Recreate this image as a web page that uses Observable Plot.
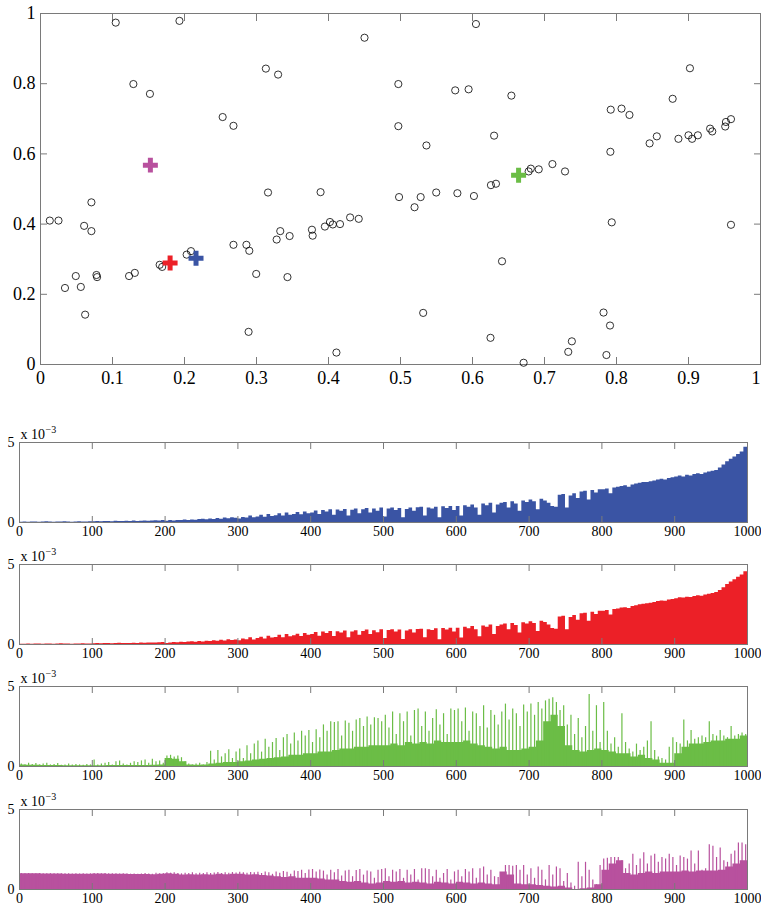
<!DOCTYPE html>
<html><head><meta charset="utf-8">
<script src="https://cdn.jsdelivr.net/npm/d3@7"></script>
<script src="https://cdn.jsdelivr.net/npm/@observablehq/plot@0.6"></script>
<style>
html,body{margin:0;padding:0;background:#fff;}
#wrap{position:relative;width:761px;height:908px;overflow:hidden;}
#wrap > div{position:absolute;left:0;}
</style></head>
<body><div id="wrap"></div>
<script>
// ---------- scatter data ----------
const pointX = [0.1045,0.193,0.450,0.313,0.330,0.129,0.152,0.253,0.268,0.316,0.389,0.0707,0.0129,0.025,0.0606,0.0707,0.402,0.406,0.416,0.395,0.430,0.442,0.377,0.378,0.333,0.328,0.346,0.268,0.286,0.290,0.209,0.203,0.1655,0.169,0.131,0.123,0.0777,0.0786,0.049,0.034,0.056,0.2996,0.343,0.062,0.289,0.411,
 0.6048,0.497,0.576,0.5946,0.654,0.902,0.878,0.792,0.807,0.818,0.497,0.630,0.536,0.856,0.846,0.886,0.900,0.905,0.913,0.930,0.933,0.951,0.952,0.959,0.7915,0.711,0.7285,0.692,0.681,0.678,0.6326,0.6256,0.5496,0.579,0.602,0.498,0.528,0.5195,0.7934,0.959,0.641,0.5315,0.782,0.791,0.625,0.738,0.733,0.786,0.671];
const pointY = [0.974,0.979,0.931,0.843,0.826,0.799,0.771,0.705,0.680,0.490,0.491,0.462,0.410,0.410,0.395,0.380,0.406,0.399,0.400,0.393,0.419,0.415,0.384,0.367,0.380,0.356,0.366,0.341,0.341,0.324,0.323,0.313,0.284,0.278,0.261,0.252,0.255,0.249,0.252,0.218,0.221,0.258,0.249,0.142,0.093,0.034,
 0.970,0.799,0.781,0.784,0.766,0.844,0.757,0.726,0.729,0.711,0.679,0.652,0.624,0.650,0.630,0.643,0.653,0.643,0.653,0.672,0.664,0.678,0.691,0.699,0.606,0.571,0.550,0.556,0.558,0.550,0.515,0.511,0.490,0.488,0.480,0.477,0.477,0.448,0.405,0.398,0.294,0.147,0.148,0.111,0.076,0.066,0.036,0.027,0.005];
const centerNames = ["magenta","red","blue","green"];
const centerX = [0.1526,0.180,0.216,0.664];
const centerY = [0.568,0.289,0.303,0.539];
const colors = {blue:"#3a54a4", red:"#ec2027", green:"#6bbd46", magenta:"#b8519e"};
const scatterXTicks = [0,0.1,0.2,0.3,0.4,0.5,0.6,0.7,0.8,0.9,1];
const scatterYTicks = [0,0.2,0.4,0.6,0.8,1];

// ---------- bar panel data (units of 1e-3), bin of 5 samples ----------
const binStep = 5;
const panelXTicks = [0,100,200,300,400,500,600,700,800,900,1000];
const panelYTicks = [0,5];
const blueVals = [
0.02,0.03,0.02,0.03,0.03,0.02,0.03,0.04,0.03,0.02,0.03,0.03,0.04,0.03,0.02,0.03,0.04,0.03,0.03,0.04,
0.05,0.06,0.05,0.07,0.06,0.05,0.08,0.06,0.07,0.08,0.06,0.09,0.07,0.08,0.1,0.08,0.09,0.11,0.09,0.12,
0.08,0.12,0.1,0.13,0.12,0.15,0.13,0.16,0.14,0.18,0.2,0.17,0.22,0.19,0.25,0.21,0.28,0.23,0.3,0.26,
0.22,0.32,0.28,0.4,0.3,0.35,0.45,0.33,0.5,0.38,0.42,0.55,0.4,0.6,0.45,0.5,0.62,0.48,0.65,0.55,
0.6,0.72,0.5,0.75,0.65,0.8,0.45,0.78,0.7,0.82,0.4,0.76,0.85,0.55,0.8,0.88,0.6,0.85,0.7,0.9,
0.35,0.85,0.9,0.75,0.88,0.3,0.82,0.9,0.7,0.92,0.95,0.4,0.9,0.85,0.95,0.3,0.98,0.88,1.0,0.75,
1.0,0.4,1.05,0.95,1.1,0.9,0.45,1.15,1.05,1.2,0.6,1.1,1.2,1.25,0.9,1.3,1.15,0.7,1.35,1.25,
1.4,1.3,0.8,1.45,1.35,1.2,1.0,0.95,1.7,1.75,0.9,1.65,1.8,1.5,1.9,1.95,1.4,2.0,1.85,2.05,
2.05,2.1,1.8,2.15,2.2,2.25,2.3,2.2,2.35,2.4,2.45,2.5,2.5,2.55,2.6,2.65,2.7,2.65,2.75,2.8,
2.85,2.9,2.85,2.95,2.9,3.0,3.05,3.0,3.1,3.15,3.2,3.25,3.4,3.6,3.8,3.95,4.1,4.25,4.4,4.7];
const redVals = [
0.02,0.02,0.03,0.02,0.03,0.03,0.02,0.03,0.03,0.02,0.03,0.04,0.03,0.03,0.02,0.03,0.03,0.04,0.03,0.03,
0.05,0.06,0.05,0.06,0.07,0.05,0.06,0.08,0.06,0.07,0.06,0.08,0.07,0.09,0.08,0.1,0.09,0.1,0.11,0.12,
0.06,0.1,0.12,0.11,0.14,0.12,0.15,0.17,0.14,0.19,0.16,0.21,0.18,0.24,0.2,0.27,0.22,0.3,0.25,0.28,
0.24,0.35,0.3,0.42,0.28,0.38,0.46,0.35,0.52,0.4,0.44,0.58,0.42,0.62,0.48,0.55,0.64,0.5,0.68,0.58,
0.62,0.75,0.52,0.78,0.68,0.82,0.5,0.8,0.72,0.85,0.42,0.78,0.86,0.58,0.82,0.9,0.62,0.86,0.74,0.92,
0.38,0.88,0.92,0.78,0.9,0.32,0.84,0.92,0.72,0.94,0.96,0.42,0.92,0.88,0.98,0.3,1.0,0.9,1.02,0.78,
1.02,0.4,1.08,0.98,1.12,0.92,0.48,1.16,1.08,1.22,0.62,1.12,1.22,1.28,0.92,1.32,1.18,0.72,1.36,1.28,
1.42,1.32,0.82,1.46,1.38,1.22,1.0,0.95,1.72,1.76,0.92,1.68,1.82,1.52,1.92,1.96,1.45,2.02,1.88,2.08,
2.08,2.12,1.85,2.18,2.22,2.28,2.3,2.25,2.38,2.42,2.48,2.52,2.55,2.58,2.62,2.68,2.72,2.7,2.78,2.82,
2.86,2.92,2.9,2.96,2.93,3.0,3.05,3.02,3.1,3.14,3.18,3.25,3.38,3.55,3.75,3.9,4.05,4.2,4.35,4.55];
// green & magenta: base level per 10 samples, spike tops per 5 samples
const baseStep = 10;
const greenBase = [
0.1,0.08,0.08,0.07,0.06,0.06,0.05,0.05,0.05,0.05,
0.05,0.05,0.06,0.06,0.06,0.06,0.07,0.07,0.08,0.1,
0.5,0.45,0.3,0.1,0.08,0.1,0.15,0.2,0.25,0.25,
0.3,0.35,0.4,0.45,0.5,0.55,0.6,0.7,0.7,0.8,
0.8,0.9,0.9,1.0,1.1,1.1,1.2,1.2,1.3,1.3,
1.3,1.4,1.3,1.5,1.4,1.5,1.4,1.6,1.5,1.5,
1.5,1.6,1.4,1.3,1.2,1.1,1.2,1.0,1.0,1.1,
1.2,1.6,2.8,3.2,2.5,1.3,1.0,0.9,1.0,1.1,
1.0,0.9,0.8,0.8,0.6,0.7,0.5,0.4,0.2,0.2,
0.8,1.2,1.4,1.4,1.5,1.6,1.6,1.7,1.7,1.9];
const greenSpikes = [
0.15,0.1,0.2,0.12,0.18,0.1,0.15,0.2,0.1,0.12,0.18,0.08,0.1,0.15,0.1,0.12,0.1,0.08,0.12,0.1,
0.4,0.1,0.15,0.2,0.25,0.1,0.3,0.35,0.15,0.1,0.2,0.3,0.25,0.35,0.4,0.2,0.45,0.3,0.35,0.2,
0.65,0.7,0.6,0.65,0.55,0.3,0.15,0.1,0.15,0.2,0.1,0.25,0.95,0.4,1.0,0.6,0.8,1.05,0.5,0.9,
1.1,0.5,1.3,0.8,1.4,1.6,0.9,1.7,1.2,1.5,1.75,1.0,1.8,2.0,1.4,2.1,1.6,2.2,1.9,2.25,
1.5,2.3,1.8,2.6,2.2,2.8,2.75,2.8,1.9,2.85,2.7,2.2,2.9,3.0,2.5,3.1,2.6,3.05,3.0,2.8,
3.2,2.4,3.4,2.0,3.3,2.8,3.4,1.9,3.5,3.6,2.5,3.4,2.2,3.0,3.55,2.6,3.3,2.0,3.6,3.5,
3.6,2.8,3.65,2.2,3.4,3.3,2.5,3.8,2.4,3.5,3.2,2.6,3.4,3.9,2.9,3.6,3.3,2.5,3.85,3.4,
3.9,3.2,4.0,3.6,4.1,4.2,4.3,4.0,3.5,3.8,2.6,3.2,2.0,3.0,1.8,2.5,4.5,2.2,3.8,1.5,
4.0,2.2,1.4,1.8,1.2,3.3,1.5,1.1,0.9,1.4,1.0,1.2,1.6,2.8,1.0,0.6,0.5,0.4,1.2,1.8,
1.5,1.4,2.9,1.6,2.25,1.7,1.8,1.9,1.8,2.8,2.0,1.9,2.25,1.9,1.8,2.5,1.9,2.0,2.1,2.0];
const magentaBase = [
0.98,0.98,0.98,0.97,0.97,0.97,0.96,0.96,0.96,0.96,
0.97,0.97,0.96,0.95,0.95,0.94,0.94,0.93,0.92,0.95,
0.98,0.95,0.9,0.92,0.9,0.92,0.9,0.95,0.92,0.95,
0.95,0.9,0.92,0.88,0.85,0.8,0.75,0.8,0.7,0.7,
0.7,0.65,0.6,0.6,0.5,0.45,0.5,0.4,0.35,0.4,
0.5,0.45,0.5,0.4,0.45,0.4,0.35,0.45,0.4,0.35,
0.45,0.4,0.35,0.4,0.35,0.3,1.1,0.9,0.35,0.3,
0.3,0.25,0.2,0.15,0.2,0.1,0.0,0.05,0.1,0.3,
1.2,1.6,1.8,1.0,0.9,1.0,1.1,1.0,1.1,1.1,
1.1,1.15,1.1,1.15,1.15,1.15,1.2,1.4,1.6,1.8];
const magentaSpikes = [
1.0,0.99,1.0,0.99,0.99,1.0,0.99,0.98,0.99,0.98,0.98,0.99,0.98,0.98,0.97,0.98,0.97,0.98,0.97,0.98,
1.0,1.0,0.99,1.0,0.98,0.99,0.98,0.97,0.98,0.97,0.96,0.97,0.96,0.97,1.0,0.97,0.96,1.02,0.98,1.0,
1.05,1.02,1.04,1.0,0.98,1.02,1.0,1.04,0.98,1.02,1.0,1.05,1.0,1.03,1.06,1.0,1.04,1.02,1.06,1.03,
1.08,1.04,1.02,1.06,1.05,1.08,1.0,1.1,1.05,0.95,1.1,1.02,1.12,1.08,0.95,1.15,1.12,1.2,1.0,1.22,
1.25,1.1,1.22,1.15,0.9,1.2,1.05,1.25,0.85,1.15,1.2,0.8,1.18,1.25,0.9,1.15,1.1,0.7,1.2,1.25,
1.3,0.8,1.2,1.1,1.25,0.7,1.2,0.9,1.25,0.6,1.3,1.3,1.25,0.8,1.2,0.7,1.0,1.25,0.6,1.1,
1.2,0.8,1.25,1.1,1.3,0.7,1.3,1.4,0.9,1.2,0.8,0.75,1.0,1.5,1.5,1.45,1.5,1.2,1.5,0.9,
1.3,0.7,1.4,1.2,0.6,1.5,0.9,1.4,1.3,0.5,1.0,0.4,0.2,1.7,0.8,1.7,1.2,0.6,0.3,1.5,
1.9,1.95,2.0,2.0,2.0,1.8,1.3,1.6,2.2,1.5,1.9,2.3,1.6,2.1,2.2,1.7,2.0,1.9,2.2,2.0,
1.5,2.1,2.0,1.9,2.4,1.6,2.4,1.2,1.3,2.8,2.7,2.0,2.6,1.8,1.7,2.2,2.4,2.9,2.9,2.8];

const FONT = "'Liberation Serif','Times New Roman',serif";
const AX = "#7a7a7a";
const wrap = document.getElementById("wrap");
const fmt = d => String(d);

function place(node, top) {
  const div = document.createElement("div");
  div.style.top = top + "px";
  div.appendChild(node);
  wrap.appendChild(div);
}

// ---------- scatter ----------
const points = pointX.map((x, i) => ({x, y: pointY[i]}));
const centers = centerNames.map((n, i) => ({x: centerX[i], y: centerY[i], color: colors[n]}));
const tickLen = 7;
place(Plot.plot({
  width: 761, height: 390,
  marginTop: 13, marginLeft: 40, marginRight: 1, marginBottom: 26,
  x: {domain: [0, 1]}, y: {domain: [0, 1]},
  style: {fontFamily: FONT, fontSize: "18px", color: "black", background: "white", overflow: "visible"},
  marks: [
    Plot.frame({stroke: AX}),
    Plot.axisX({anchor: "bottom", ticks: scatterXTicks, tickSize: tickLen, dy: -tickLen, fill: "none", stroke: AX, label: null}),
    Plot.axisX({anchor: "top", ticks: scatterXTicks, tickSize: tickLen, dy: tickLen, fill: "none", stroke: AX, label: null}),
    Plot.axisY({anchor: "left", ticks: scatterYTicks, tickSize: tickLen, dx: tickLen, fill: "none", stroke: AX, label: null}),
    Plot.axisY({anchor: "right", ticks: scatterYTicks, tickSize: tickLen, dx: -tickLen, fill: "none", stroke: AX, label: null}),
    Plot.axisX({anchor: "bottom", ticks: scatterXTicks.slice(0, -1), tickSize: 0, tickPadding: 7, tickFormat: fmt, label: null}),
    Plot.axisX({anchor: "bottom", ticks: scatterXTicks.slice(-1), tickSize: 0, tickPadding: 7, tickFormat: fmt, textAnchor: "end", dx: 0, label: null}),
    Plot.axisY({anchor: "left", ticks: scatterYTicks, tickSize: 0, tickPadding: 5, tickFormat: fmt, label: null}),
    Plot.dot(points, {x: "x", y: "y", r: 3.6, stroke: "black", strokeWidth: 0.8, fill: "none"}),
    Plot.dot(centers, {x: "x", y: "y", symbol: "cross", r: 6.3, fill: "color", stroke: "none"})
  ]
}), 0);

// ---------- bar panels ----------
function stepData(vals, step) {
  const d = vals.map((v, i) => ({x: i * step, v}));
  d.push({x: vals.length * step, v: vals[vals.length - 1]});
  return d;
}
function panel(top, color, bars, base, spikes) {
  const marks = [];
  if (bars) {
    marks.push(Plot.areaY(stepData(bars, binStep), {x: "x", y: "v", curve: "step-after", fill: color}));
  }
  if (base) {
    marks.push(Plot.areaY(stepData(base, baseStep), {x: "x", y: "v", curve: "step-after", fill: color}));
  }
  if (spikes) {
    marks.push(Plot.ruleX(spikes.map((v, i) => ({x: i * binStep + binStep / 2, v})),
      {x: "x", y1: 0, y2: "v", stroke: color, strokeWidth: 1.2}));
  }
  const tl = 6;
  place(Plot.plot({
    width: 761, height: 122,
    marginTop: 22, marginLeft: 19, marginRight: 14, marginBottom: 20,
    x: {domain: [0, 1000]}, y: {domain: [0, 5]},
    style: {fontFamily: FONT, fontSize: "14px", color: "black", background: "transparent", overflow: "visible"},
    marks: [
      ...marks,
      Plot.frame({stroke: AX}),
      Plot.axisX({anchor: "bottom", ticks: panelXTicks, tickSize: tl, dy: -tl, fill: "none", stroke: AX, label: null}),
      Plot.axisX({anchor: "top", ticks: panelXTicks, tickSize: tl, dy: tl, fill: "none", stroke: AX, label: null}),
      Plot.axisX({anchor: "bottom", ticks: panelXTicks, tickSize: 0, tickPadding: 4, tickFormat: fmt, label: null}),
      Plot.axisY({anchor: "left", ticks: panelYTicks, tickSize: 0, tickPadding: 5, tickFormat: fmt, label: null}),
      Plot.text(["x 10"], {frameAnchor: "top-left", textAnchor: "start", lineAnchor: "bottom", dx: 1, dy: -4, fontSize: 14}),
      Plot.text(["\u22123"], {frameAnchor: "top-left", textAnchor: "start", lineAnchor: "bottom", dx: 26, dy: -10, fontSize: 10})
    ]
  }), top);
}
panel(420, colors.blue, blueVals);
panel(542, colors.red, redVals);
panel(664, colors.green, null, greenBase, greenSpikes);
panel(786.5, colors.magenta, null, magentaBase, magentaSpikes);
</script></body></html>
